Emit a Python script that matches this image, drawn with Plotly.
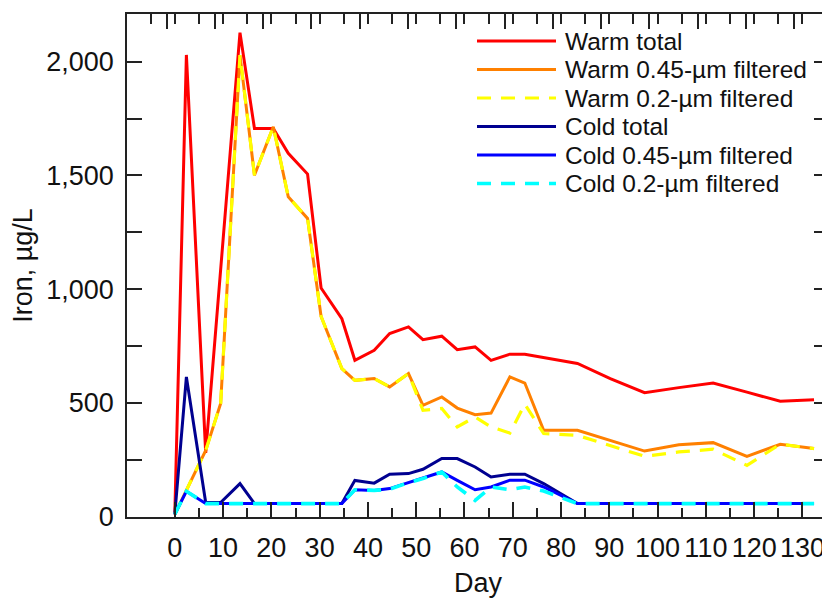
import plotly.graph_objects as go

# ---- data ----
days = [0, 2.4, 6.4, 9.5, 13.5, 16.5, 20.4, 23.5, 27.5, 30.3, 34.6, 37.3, 41.3, 44.5, 48.4,
        51.4, 55.3, 58.5, 62.2, 65.5, 69.4, 72.5, 76.4, 83.4, 90.2, 97.3, 104.4, 111.5,
        118.5, 125.4, 132.4]

warm_total = [10, 2030, 280, 1085, 2128, 1707, 1707, 1597, 1506, 1005, 870, 687, 731, 805, 834,
              778, 793, 734, 746, 687, 714, 714, 699, 673, 607, 545, 567, 587, 547, 507, 514]
warm_045 = [10, 115, 291, 497, 2029, 1501, 1714, 1406, 1311, 880, 651, 599, 607, 570, 629,
            489, 526, 477, 448, 455, 614, 587, 379, 379, 335, 288, 316, 325, 265, 318, 299]
warm_02 = [10, 115, 291, 497, 2029, 1501, 1714, 1406, 1311, 880, 651, 599, 607, 570, 629,
           467, 475, 394, 438, 394, 367, 494, 365, 357, 312, 265, 284, 296, 225, 318, 299]
cold_total = [10, 614, 62, 62, 145, 57, 57, 57, 57, 57, 57, 159, 147, 186, 189,
              208, 255, 255, 218, 174, 186, 186, 145, 57, 57, 57, 57, 57, 57, 57, 57]
cold_045 = [10, 111, 57, 57, 57, 57, 57, 57, 57, 57, 57, 118, 115, 123, 149,
            167, 196, 159, 118, 130, 160, 160, 130, 57, 57, 57, 57, 57, 57, 57, 57]
cold_02 = [10, 111, 57, 57, 57, 57, 57, 57, 57, 57, 57, 118, 115, 120, 149,
           167, 196, 130, 71, 130, 118, 130, 112, 57, 57, 57, 57, 57, 57, 57, 57]

series_names = ["Warm total", "Warm 0.45-µm filtered", "Warm 0.2-µm filtered",
                "Cold total", "Cold 0.45-µm filtered", "Cold 0.2-µm filtered"]
series_values = [warm_total, warm_045, warm_02, cold_total, cold_045, cold_02]

x_tick_labels = [0, 10, 20, 30, 40, 50, 60, 70, 80, 90, 100, 110, 120, 130]
x_minor_ticks = [5, 15, 25, 35, 45, 55, 65, 75, 85, 95, 105, 115, 125]

# ---- styles ----
colors = ["#FF0000", "#FF8000", "#FFFF00", "#000090", "#0000FF", "#00FFFF"]
dashes = ["solid", "solid", "14px,10px", "solid", "solid", "14px,10px"]
widths = [3, 3, 3.2, 3, 3, 3.6]

FONT = "Liberation Sans, Arial, sans-serif"
OFF = 8                      # page body margin around the plot div
W, H = 830 - OFF, 598 - OFF  # figure size so the page is filled exactly
# plot-area edges in page pixels: left 127, right 829, top 14, bottom 517
L, R, T, B = 127 - OFF, W - (829 - OFF), 14 - OFF, H - (517 - OFF)

fig = go.Figure()
for name, vals, c, d, w in zip(series_names, series_values, colors, dashes, widths):
    fig.add_trace(go.Scatter(x=days, y=vals, mode="lines", name=name,
                             line=dict(color=c, width=w, dash=d), showlegend=False))

# invisible trace so the mirrored top axis gets drawn
fig.add_trace(go.Scatter(x=[None], y=[None], xaxis="x2", yaxis="y", mode="lines",
                         showlegend=False, hoverinfo="skip"))

# manual legend (page-pixel layout of the reference)
pw, ph = W - L - R, H - T - B
def px(xpage):
    return (xpage - OFF - L) / pw
def py(ypage):
    return (H - B - (ypage - OFF)) / ph

leg_rows = [41, 69.5, 98, 126.5, 155, 183.5]
for name, c, d, w, yr in zip(series_names, colors, dashes, widths, leg_rows):
    fig.add_shape(type="line", xref="paper", yref="paper",
                  x0=px(477), x1=px(556), y0=py(yr), y1=py(yr),
                  line=dict(color=c, width=w, dash=d))
    fig.add_annotation(xref="paper", yref="paper", x=px(563), y=py(yr),
                       text=name, showarrow=False, xanchor="left", yanchor="middle",
                       font=dict(family=FONT, size=24.5, color="#111"))

axis_common = dict(showline=True, linecolor="#222", linewidth=1.5, showgrid=False,
                   zeroline=False, ticks="inside", ticklen=15, tickwidth=1.5,
                   tickcolor="#222", automargin=False)

fig.update_layout(
    template="none",
    width=W, height=H,
    margin=dict(l=L, r=R, t=T, b=B, pad=0),
    paper_bgcolor="white", plot_bgcolor="white",
    font=dict(family=FONT, size=27, color="#111"),
    showlegend=False,
    xaxis=dict(range=[-9.9, 135.5], tickmode="array", tickvals=x_tick_labels,
               ticktext=[str(v) for v in x_tick_labels],
               minor=dict(tickmode="array", tickvals=x_minor_ticks, ticks="inside",
                          ticklen=9, tickwidth=1.5, tickcolor="#222"),
               title=dict(text="Day", font=dict(size=27), standoff=12),
               ticklabelstandoff=6, mirror=False, **axis_common),
    xaxis2=dict(range=[-9.9, 135.5], overlaying="x", side="top", anchor="y",
                tick0=-1.7, dtick=10, showticklabels=False,
                minor=dict(dtick=5, ticks="inside", ticklen=10, tickwidth=1.5,
                           tickcolor="#222"),
                **axis_common),
    yaxis=dict(range=[-2, 2210], tick0=0, dtick=500, tickformat=",",
               minor=dict(dtick=250, ticks="inside", ticklen=8, tickwidth=1.5,
                          tickcolor="#222"),
               title=dict(text="Iron, µg/L", font=dict(size=27), standoff=16),
               mirror="allticks", ticklabelstandoff=6, **axis_common),
)

fig.write_html("out.html")
